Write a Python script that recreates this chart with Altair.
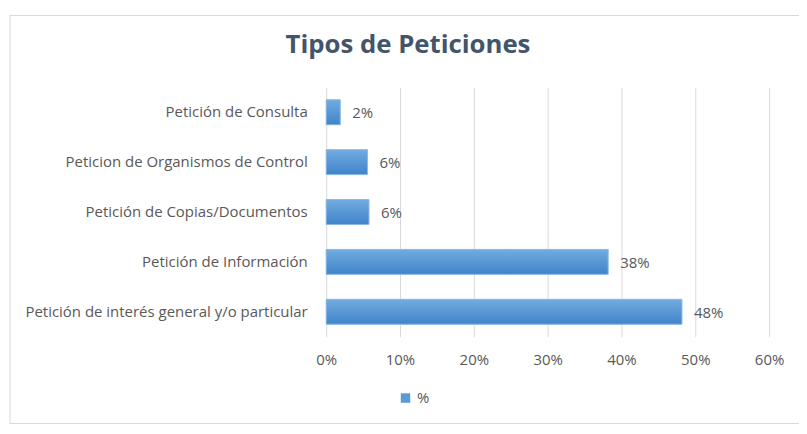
import altair as alt
import pandas as pd

categorias = [
    "Petición de Consulta",
    "Peticion de Organismos de Control",
    "Petición de Copias/Documentos",
    "Petición de Información",
    "Petición de interés general y/o particular",
]
valores = [0.019, 0.056, 0.058, 0.382, 0.482]
serie = ["%"] * 5
ticks_x = [0, 0.1, 0.2, 0.3, 0.4, 0.5, 0.6]
titulo = "Tipos de Peticiones"

df = pd.DataFrame({"cat": categorias, "val": valores, "serie": serie})

FONT = "Open Sans"
GRAY = "#595959"
FS = 15

y_enc = alt.Y("cat:N", sort=categorias, title=None,
              scale=alt.Scale(paddingInner=0.5, paddingOuter=0.25),
              axis=alt.Axis(domain=False, ticks=False, labelPadding=19,
                            labelFontSize=FS, labelColor=GRAY, labelFont=FONT,
                            labelLimit=400))
x_enc = alt.X("val:Q", title=None,
              scale=alt.Scale(domain=[0, 0.6], nice=False),
              axis=alt.Axis(values=ticks_x, format=".0%", domain=False, ticks=False,
                            grid=True, gridColor="#d9d9d9", labelPadding=16,
                            labelFlush=False,
                            labelFontSize=FS, labelColor=GRAY, labelFont=FONT))

base = alt.Chart(df)

bars_legend = base.mark_bar().encode(
    y=y_enc, x=x_enc,
    color=alt.Color("serie:N", scale=alt.Scale(range=["#5b9bd5"]),
                    legend=alt.Legend(title=None, orient="none", legendX=72, legendY=304,
                                      symbolType="square", symbolSize=90,
                                      labelFontSize=FS, labelColor=GRAY, labelFont=FONT,
                                      symbolStrokeWidth=0)),
)

gradient = alt.Gradient(
    gradient="linear",
    stops=[alt.GradientStop(color="#72abe0", offset=0),
           alt.GradientStop(color="#3f84c9", offset=1)],
    x1=0, x2=0, y1=0, y2=1,
)
bars_grad = base.mark_bar(color=gradient, stroke="#8fbbe6", strokeWidth=1).encode(
    y=y_enc, x=x_enc
)

labels = base.mark_text(align="left", baseline="middle", dx=12, dy=1,
                        fontSize=FS, color=GRAY, font=FONT).encode(
    y=y_enc, x=x_enc, text=alt.Text("val:Q", format=".0%")
)

frame = alt.Chart(pd.DataFrame({"k": [0]})).mark_rect(
    fill="transparent", stroke="#d9d9d9", strokeWidth=1
).encode(x=alt.value(-317), x2=alt.value(479), y=alt.value(-72), y2=alt.value(337))

title_mark = alt.Chart(pd.DataFrame({"t": [titulo]})).mark_text(
    font=FONT, fontSize=25.8, fontWeight="bold", color="#44546a",
    align="center", baseline="middle"
).encode(x=alt.value(82), y=alt.value(-42), text="t:N")

chart = alt.layer(frame, bars_legend, bars_grad, labels, title_mark).properties(
    width=444, height=250,
    autosize=alt.AutoSizeParams(type="none"),
    padding={"left": 319, "top": 79, "right": 30, "bottom": 90},
).configure_view(stroke=None)

chart.save("out.html", embed_options={"renderer": "svg", "actions": False})
